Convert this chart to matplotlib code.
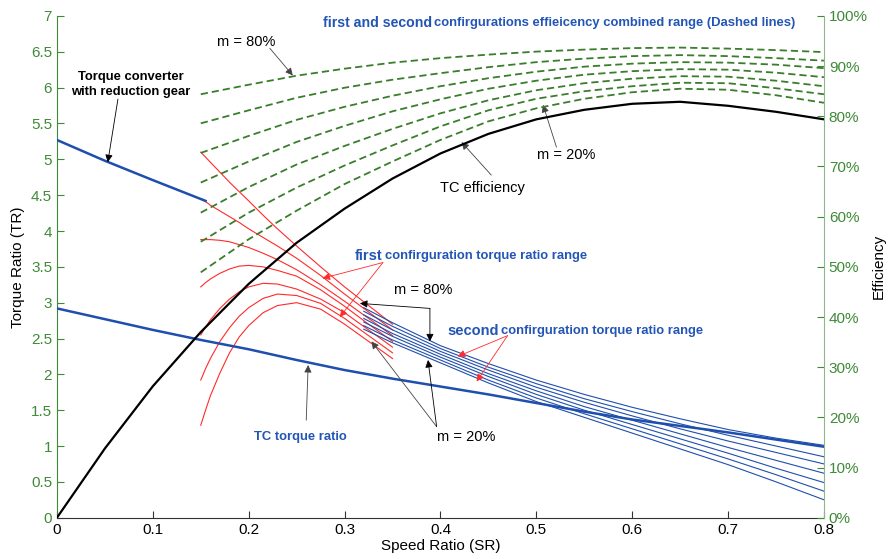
import matplotlib
matplotlib.use("Agg")
import matplotlib.pyplot as plt
from matplotlib.ticker import FuncFormatter

plt.rcParams['font.family'] = ['Liberation Sans', 'DejaVu Sans']

# ---- data ----
# torque converter (TC) curves
sr_tc = [0, 0.05, 0.1, 0.15, 0.2, 0.25, 0.3, 0.35, 0.4, 0.45, 0.5, 0.55, 0.6, 0.65, 0.7, 0.75, 0.8]
tr_tc = [2.92, 2.77, 2.62, 2.48, 2.35, 2.20, 2.06, 1.94, 1.83, 1.72, 1.60, 1.48, 1.37, 1.28, 1.19, 1.09, 0.99]
eff_tc = [0, 13.8, 26.2, 37.0, 46.6, 54.8, 61.6, 67.6, 72.6, 76.5, 79.4, 81.3, 82.5, 82.9, 82.1, 80.9, 79.4]

# TC with reduction gear
sr_gear = [0, 0.05, 0.1, 0.155]
tr_gear = [5.27, 4.98, 4.71, 4.42]

# first configuration torque ratio (red)
sr_first = [0.15, 0.155, 0.16, 0.17, 0.18, 0.19, 0.2, 0.215, 0.23, 0.25, 0.275, 0.3, 0.325, 0.35]
tr_first = [
    [5.10, 5.03, 4.96, 4.82, 4.68, 4.55, 4.42, 4.22, 4.03, 3.79, 3.50, 3.22, 2.96, 2.70],
    [4.45, 4.41, 4.36, 4.28, 4.20, 4.12, 4.03, 3.91, 3.79, 3.62, 3.38, 3.12, 2.87, 2.62],
    [3.88, 3.88, 3.88, 3.87, 3.85, 3.81, 3.77, 3.69, 3.60, 3.46, 3.25, 3.02, 2.78, 2.54],
    [3.22, 3.28, 3.33, 3.41, 3.47, 3.51, 3.52, 3.50, 3.45, 3.37, 3.18, 2.95, 2.70, 2.46],
    [2.55, 2.66, 2.76, 2.92, 3.05, 3.15, 3.22, 3.27, 3.26, 3.19, 3.05, 2.86, 2.62, 2.38],
    [1.92, 2.08, 2.22, 2.46, 2.65, 2.81, 2.93, 3.06, 3.12, 3.10, 2.99, 2.78, 2.54, 2.30],
    [1.29, 1.50, 1.70, 2.02, 2.30, 2.52, 2.68, 2.86, 2.96, 3.00, 2.91, 2.70, 2.46, 2.22],
]

# second configuration torque ratio (thin blue)
sr_second = [0.32, 0.35, 0.4, 0.45, 0.5, 0.55, 0.6, 0.65, 0.7, 0.75, 0.8]
tr_second = [
    [2.93, 2.72, 2.40, 2.15, 1.92, 1.72, 1.54, 1.38, 1.23, 1.11, 1.01],
    [2.88, 2.67, 2.36, 2.10, 1.87, 1.66, 1.48, 1.31, 1.15, 1.00, 0.85],
    [2.83, 2.62, 2.32, 2.06, 1.82, 1.61, 1.42, 1.24, 1.07, 0.91, 0.75],
    [2.78, 2.57, 2.28, 2.01, 1.77, 1.55, 1.36, 1.17, 0.98, 0.80, 0.62],
    [2.73, 2.53, 2.24, 1.97, 1.72, 1.50, 1.30, 1.10, 0.90, 0.69, 0.49],
    [2.68, 2.48, 2.20, 1.92, 1.67, 1.45, 1.24, 1.03, 0.82, 0.60, 0.37],
    [2.63, 2.44, 2.16, 1.88, 1.62, 1.40, 1.18, 0.96, 0.74, 0.50, 0.25],
]

# combined efficiency range (green dashed), m = 80% ... 20%
sr_comb = [0.15, 0.2, 0.25, 0.3, 0.35, 0.4, 0.45, 0.5, 0.55, 0.6, 0.65, 0.7, 0.75, 0.8]
eff_comb = [
    [84.4, 86.3, 88.1, 89.5, 90.7, 91.6, 92.3, 92.9, 93.3, 93.6, 93.7, 93.5, 93.2, 92.8],
    [78.6, 81.2, 83.7, 85.7, 87.3, 88.6, 89.8, 90.8, 91.5, 92.0, 92.2, 92.0, 91.6, 91.1],
    [72.7, 76.1, 79.3, 81.9, 84.1, 86.0, 87.6, 88.9, 89.9, 90.5, 90.8, 90.7, 90.3, 89.6],
    [66.8, 71.0, 74.9, 78.1, 81.0, 83.4, 85.5, 87.1, 88.3, 89.0, 89.4, 89.3, 88.7, 87.8],
    [60.8, 65.9, 70.4, 74.1, 77.5, 80.6, 83.2, 85.2, 86.6, 87.5, 88.0, 87.9, 87.1, 86.0],
    [55.0, 60.8, 65.8, 70.2, 74.2, 78.0, 81.2, 83.5, 85.0, 86.0, 86.7, 86.6, 85.6, 84.4],
    [48.9, 55.5, 61.2, 66.5, 71.0, 75.3, 79.0, 81.6, 83.5, 84.8, 85.5, 85.3, 84.2, 82.7],
]

BLUE = '#1f4fae'
TXT_BLUE = '#2255b5'
RED = '#ff2a2a'
GREEN = '#3a7d2c'
TICK_GREEN = '#3e8a36'
SMALL = 9.4

fig = plt.figure(figsize=(8.9, 5.59), dpi=100)
ax = fig.add_axes([0.0640, 0.0739, 0.8618, 0.8975])
ax2 = ax.twinx()

# left axis curves
ax.plot(sr_tc, tr_tc, color=BLUE, lw=1.8, zorder=3)
ax.plot(sr_gear, tr_gear, color=BLUE, lw=1.8, zorder=3)
for ys in tr_first:
    ax.plot(sr_first, ys, color=RED, lw=0.8, zorder=2)
for ys in tr_second:
    ax.plot(sr_second, ys, color=BLUE, lw=0.8, zorder=2)

# right axis curves
ax2.plot(sr_tc, eff_tc, color='black', lw=1.6)
for ys in eff_comb:
    ax2.plot(sr_comb, ys, color=GREEN, lw=1.3, dashes=(4, 2.2))

ax.set_xlim(0, 0.8)
ax.set_ylim(0, 7)
ax2.set_ylim(0, 100)
ax.set_xticks([0, 0.1, 0.2, 0.3, 0.4, 0.5, 0.6, 0.7, 0.8])
ax.set_xticklabels(['0', '0.1', '0.2', '0.3', '0.4', '0.5', '0.6', '0.7', '0.8'])
ax.set_yticks([i * 0.5 for i in range(15)])
ax.set_yticklabels(['0', '0.5', '1', '1.5', '2', '2.5', '3', '3.5', '4', '4.5',
                    '5', '5.5', '6', '6.5', '7'])
ax2.set_yticks(range(0, 101, 10))
ax2.yaxis.set_major_formatter(FuncFormatter(lambda v, p: '%d%%' % v))

ax.tick_params(direction='in', length=5, labelsize=11)
ax.tick_params(axis='y', colors=TICK_GREEN)
ax.tick_params(axis='x', colors='#333333', labelcolor='black')
ax2.tick_params(direction='in', length=5, labelsize=11, colors=TICK_GREEN)

for a in (ax, ax2):
    a.spines['top'].set_visible(False)
ax.spines['left'].set_color(TICK_GREEN)
ax2.spines['left'].set_visible(False)
ax2.spines['right'].set_color('#8ab88a')
ax2.spines['bottom'].set_visible(False)
ax.spines['bottom'].set_color('#333333')
ax.spines['right'].set_visible(False)

ax.set_xlabel('Speed Ratio (SR)', fontsize=11, labelpad=2)
ax.set_ylabel('Torque Ratio (TR)', fontsize=11, labelpad=4)
ax2.set_ylabel('Efficiency', fontsize=11, rotation=90, va='center')
ax2.yaxis.set_label_coords(1.072, 0.5)

# ---- annotations ----
def arrow(xy, xytext, color='black', lw=0.6):
    ax.annotate('', xy=xy, xytext=xytext,
                arrowprops=dict(arrowstyle='-|>', color=color, lw=lw,
                                mutation_scale=11, shrinkA=0, shrinkB=0))

ax.text(0.2774, 6.90, 'first and second', color=TXT_BLUE, fontsize=10.2,
        fontweight='bold', va='center')
ax.text(0.393, 6.90, 'confirgurations effieicency combined range (Dashed lines)',
        color=TXT_BLUE, fontsize=SMALL, fontweight='bold', va='center')

ax.text(0.1668, 6.64, 'm = 80%', fontsize=10.5, va='center')
arrow((0.246, 6.17), (0.222, 6.55), color='#444444')

ax.text(0.077, 6.04, 'Torque converter\nwith reduction gear', fontsize=SMALL,
        fontweight='bold', ha='center', va='center', linespacing=1.3)
arrow((0.053, 4.96), (0.0636, 5.84))

ax.text(0.399, 4.60, 'TC efficiency', fontsize=10.5, va='center')
arrow((0.422, 5.24), (0.453, 4.78), color='#444444')

ax.text(0.5005, 5.06, 'm = 20%', fontsize=10.5, va='center')
arrow((0.507, 5.76), (0.521, 5.17), color='#444444')

ax.text(0.311, 3.65, 'first', color=TXT_BLUE, fontsize=10.5,
        fontweight='bold', va='center')
ax.text(0.342, 3.65, 'confirguration torque ratio range', color=TXT_BLUE,
        fontsize=SMALL, fontweight='bold', va='center')
arrow((0.277, 3.34), (0.340, 3.56), color=RED)
arrow((0.295, 2.80), (0.340, 3.56), color=RED)

ax.text(0.352, 3.17, 'm = 80%', fontsize=10.5, va='center')
arrow((0.316, 2.99), (0.389, 2.92))
arrow((0.389, 2.46), (0.389, 2.92))

ax.text(0.4077, 2.60, 'second', color=TXT_BLUE, fontsize=10.5,
        fontweight='bold', va='center')
ax.text(0.463, 2.60, 'confirguration torque ratio range', color=TXT_BLUE,
        fontsize=SMALL, fontweight='bold', va='center')
arrow((0.418, 2.25), (0.470, 2.54), color=RED)
arrow((0.4377, 1.90), (0.470, 2.54), color=RED)

ax.text(0.396, 1.13, 'm = 20%', fontsize=10.5, va='center')
arrow((0.328, 2.46), (0.396, 1.27), color='#444444')
arrow((0.387, 2.20), (0.396, 1.27))

ax.text(0.254, 1.13, 'TC torque ratio', color=TXT_BLUE, fontsize=SMALL,
        fontweight='bold', ha='center', va='center')
arrow((0.262, 2.13), (0.260, 1.36), color='#444444')

fig.savefig('out.png', dpi=100)
